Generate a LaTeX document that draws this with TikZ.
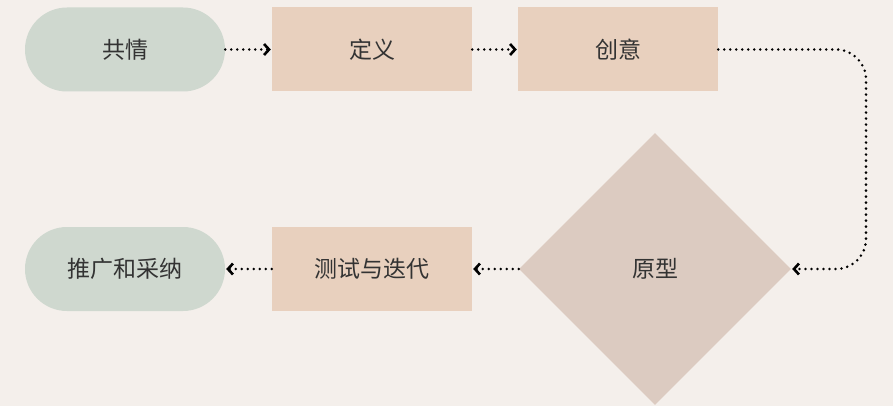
\documentclass[tikz,border=0pt]{standalone}
\usepackage{fontspec}
\setmainfont{Noto Sans CJK SC}
\usetikzlibrary{shapes.geometric,arrows.meta}
\definecolor{bgc}{HTML}{F4EFEB}
\definecolor{greenc}{HTML}{CFD8CF}
\definecolor{peachc}{HTML}{E8D0BE}
\definecolor{diamc}{HTML}{DCCBC1}
\definecolor{txtc}{HTML}{333333}
\tikzset{
  base/.style={inner sep=0pt, text=txtc, font=\fontsize{23}{27}\selectfont},
  pill/.style={base, fill=greenc, minimum width=200pt, minimum height=84pt, rounded corners=42pt},
  stepbox/.style={base, fill=peachc, minimum width=200pt, minimum height=84pt},
  decision/.style={base, diamond, fill=diamc, minimum width=272pt, minimum height=272pt, aspect=1},
  flow/.style={draw=black, line width=2.8pt, line cap=round, dash pattern=on 0pt off 6pt,
    -{Straight Barb[length=5pt,width=11pt,line width=2.6pt]}, shorten >=1pt},
}
\begin{document}
\begin{tikzpicture}[x=1pt,y=-1pt]
\fill[bgc] (0,0) rectangle (893,406);
\useasboundingbox (0,0) rectangle (893,406);
\node[pill] (em) at (125,49.5) {共情};
\node[stepbox] (de) at (372,49.5) {定义};
\node[stepbox] (id) at (618,49.5) {创意};
\node[decision] (pr) at (655,269) {原型};
\node[stepbox] (te) at (372,269) {测试与迭代};
\node[pill] (ad) at (125,269) {推广和采纳};
\coordinate (k) at (866,160);
\draw[flow] (em.east) -- (de.west);
\draw[flow] (de.east) -- (id.west);
\draw[flow, rounded corners=30pt] (id.east) -| (k) |- (pr.east);
\draw[flow] (pr.west) -- (te.east);
\draw[flow] (te.west) -- (ad.east);
\end{tikzpicture}
\end{document}
